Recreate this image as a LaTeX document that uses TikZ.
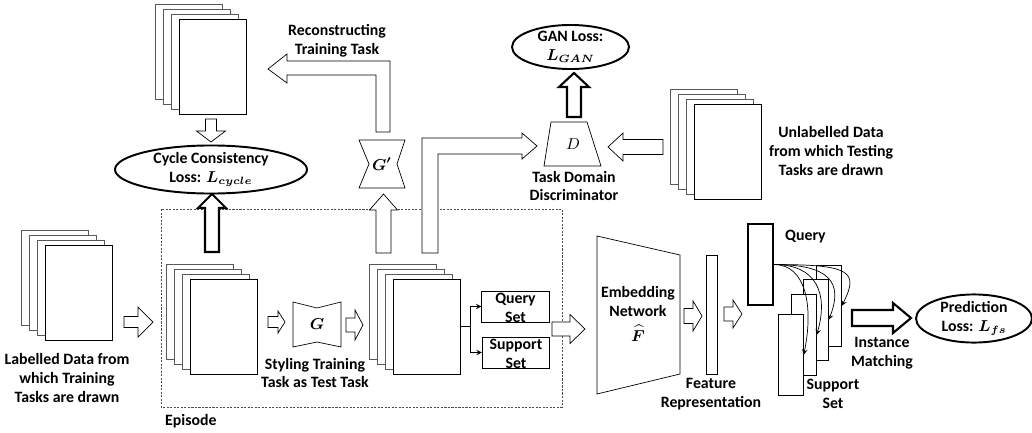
\documentclass[tikz,border=0pt]{standalone}
\usepackage{fontspec}
\setmainfont{Carlito}
\usepackage{bm}
\usetikzlibrary{shapes.geometric}

\tikzset{
  every node/.style={font=\fontsize{9}{10.8}\selectfont\bfseries},
  page/.style={draw, fill=white, minimum width=1.34cm, minimum height=1.9cm, inner sep=0, anchor=north west},
  backpage/.style={page, draw=black!65},
  bar/.style={draw, fill=white, inner sep=0, anchor=north west},
  blockarrow/.style={draw, fill=white, line join=miter},
  loss/.style={ellipse, draw, line width=1.1pt, inner sep=0, align=center},
  setbox/.style={draw, fill=white, minimum width=1.35cm, minimum height=0.62cm, inner sep=0},
  episode/.style={draw=black!70, dash pattern=on 1.2pt off 0.8pt},
}

% stack of four task sheets, #1 = name of the front sheet
\newcommand{\taskstack}[3]{%
  \foreach \i in {0,1,2} \node[backpage] (#1\i) at (#2+8*\i,#3+5*\i) {};
  \node[page] (#1) at (#2+24,#3+15) {};}

% hollow block arrows: [opts]{start}{head base}{tip}{axis}{half shaft}{half head}
\newcommand{\harrow}[7][]{\draw[blockarrow,#1] (#2,#5-#6) -- (#3,#5-#6) -- (#3,#5-#7) -- (#4,#5) -- (#3,#5+#7) -- (#3,#5+#6) -- (#2,#5+#6) -- cycle;}
\newcommand{\varrow}[7][]{\draw[blockarrow,#1] (#2-#6,#3) -- (#2-#6,#4) -- (#2-#7,#4) -- (#2,#5) -- (#2+#7,#4) -- (#2+#6,#4) -- (#2+#6,#3) -- cycle;}

\begin{document}
\begin{tikzpicture}[x=0.02cm, y=-0.02cm, >=stealth]
  \useasboundingbox (0,0) rectangle (1032,433);

  % episode frame
  \draw[episode] (161,209) rectangle (562,407);
  \node[anchor=west] (eptxt) at (159,421) {Episode};

  % task stacks
  \taskstack{rectask}{155}{4}
  \taskstack{labtask}{21}{230}
  \taskstack{eptask}{166}{264}
  \taskstack{styltask}{369}{264}
  \taskstack{unltask}{670}{89}

  \node[align=center] (labtxt) at (67,378) {Labelled Data from\\which Training\\Tasks are drawn};
  \node[align=center] (unltxt) at (831,151) {Unlabelled Data\\from which Testing\\Tasks are drawn};
  \node[align=center] (rectxt) at (337,41) {Reconstructing\\Training Task};
  \node[align=center] (stytxt) at (315,373) {Styling Training\\Task as Test Task};

  % generators and discriminator
  \draw (293,302) -- (317,308) -- (341,302) -- (341,347) -- (317,342) -- (293,347) -- cycle;
  \node (gnet) at (317,324.5) {$\bm{G}$};
  \draw (359,140) -- (405,140) -- (397,164) -- (405,188) -- (359,188) -- (369,164) -- cycle;
  \node (ginv) at (382,164) {$\bm{G'}$};
  \draw (551,122) -- (587,122) -- (601,166) -- (544,166) -- cycle;
  \node (disc) at (573,144) {$D$};
  \node[align=center] (disctxt) at (574,186) {Task Domain\\Discriminator};

  % losses
  \node[loss, minimum width=3.84cm, minimum height=0.86cm] (cycloss) at (211,169.5) {Cycle Consistency\\Loss: $\bm{L_{cycle}}$};
  \node[loss, minimum width=2.34cm, minimum height=0.76cm] (ganloss) at (570.5,47) {GAN Loss:\\$\bm{L_{GAN}}$};
  \node[loss, minimum width=2.32cm, minimum height=0.78cm] (predloss) at (974,318.5) {Prediction\\Loss: $\bm{L_{fs}}$};

  % block arrows
  \harrow{124}{138}{153}{322}{5.5}{15}
  \harrow{268}{278}{285}{322}{5.5}{11}
  \harrow{346}{355}{363}{325}{7}{15}
  \harrow{552}{570}{585}{329}{7}{14.5}
  \harrow{684}{693}{702}{316}{7.5}{15}
  \harrow{724}{733}{742}{314}{7}{14}
  \harrow[line width=1.2pt]{852}{893}{911}{318}{8}{15}
  \harrow{663}{623}{608}{147}{7.5}{14}
  \varrow{211}{119}{131}{142}{5.5}{14.5}
  \varrow[line width=1.2pt]{212}{252}{208}{194}{7}{14}
  \varrow{383.5}{253}{210}{194}{7.5}{14}
  \varrow[line width=1.2pt]{574}{117}{87}{73}{7}{15}
  \draw[blockarrow] (268,69) -- (287,54) -- (287,61) -- (390,61) -- (390,132) -- (376,132) -- (376,75) -- (287,75) -- (287,83) -- cycle;
  \draw[blockarrow] (422,253) -- (422,138) -- (522,138) -- (522,133) -- (537,146) -- (522,159) -- (522,154) -- (438,154) -- (438,253) -- cycle;

  % query / support split
  \node[setbox] (qset) at (515.5,306.5) {};
  \node[align=center] (qsettxt) at (515.5,308) {Query\\Set};
  \node[setbox] (sset) at (516,352.5) {};
  \node[align=center] (ssettxt) at (516,354) {Support\\Set};
  \draw (styltask.east) -- ++(10,0) coordinate (fork);
  \draw[->] (fork) |- (qset.west);
  \draw[->] (fork) |- (sset.west);

  % embedding network
  \draw (597,236) -- (680,255) -- (680,374) -- (597,394) -- cycle;
  \node[align=center] (embtxt) at (638,314) {Embedding\\Network\\[3pt]$\widehat{\bm{F}}$};

  % feature, query and support vectors
  \node[bar, minimum width=0.22cm, minimum height=2.38cm] (feat) at (706,255) {};
  \node[align=center] (feattxt) at (711,394) {Feature\\Representation};
  \node[bar, line width=1.2pt, minimum width=0.5cm, minimum height=1.62cm] (qbar) at (747,223) {};
  \node[anchor=west] (qtxt) at (779,237) {Query};
  \node[bar, minimum width=0.5cm, minimum height=1.62cm] (sp3) at (816,265) {};
  \node[bar, minimum width=0.5cm, minimum height=1.62cm] (sp2) at (803,279) {};
  \node[bar, minimum width=0.5cm, minimum height=1.62cm] (sp1) at (791,294) {};
  \node[bar, minimum width=0.5cm, minimum height=1.62cm] (sp0) at (778,314) {};
  \node[align=center] (stxt) at (833,394) {Support\\Set};
  \draw[->] (qbar.east) .. controls +(75,0) and +(18,-35) .. (sp3.east);
  \draw[->] (qbar.east) .. controls +(55,0) and +(15,-38) .. (sp2.east);
  \draw[->] (qbar.east) .. controls +(42,0) and +(12,-42) .. (sp1.east);
  \draw[->] (qbar.east) .. controls +(32,0) and +(10,-48) .. (sp0.east);
  \node[align=center] (imtxt) at (882,353) {Instance\\Matching};
\end{tikzpicture}
\end{document}
